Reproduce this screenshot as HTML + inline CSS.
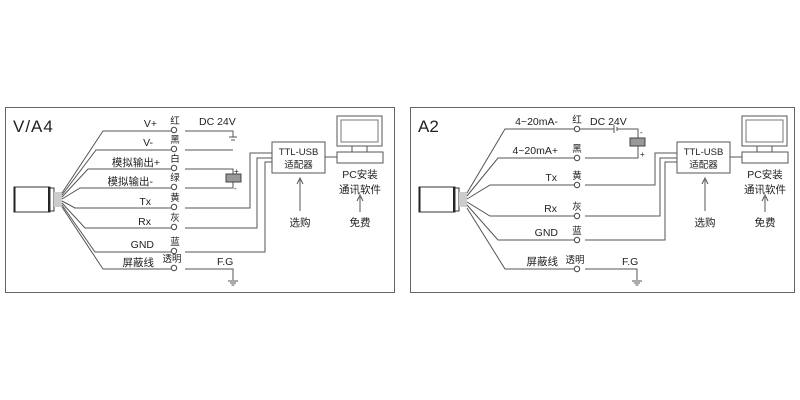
<!DOCTYPE html>
<html><head><meta charset="utf-8"><style>
body{margin:0;background:#fff}
svg{display:block}
text{font-family:"Liberation Sans","Noto Sans CJK SC",sans-serif;fill:#222;font-size:10.5px}
.c{font-size:9.5px}
.w{stroke:#555;stroke-width:1;fill:none}
</style></head><body>
<svg width="800" height="400" viewBox="0 0 800 400">
<defs>
<g id="gnd"><line x1="-5" y1="0" x2="5" y2="0" stroke="#555"/><line x1="-3" y1="2" x2="3" y2="2" stroke="#555"/><line x1="-1.5" y1="4" x2="1.5" y2="4" stroke="#555"/></g>
<g id="sensor">
<rect x="14" y="187" width="36" height="25" fill="#fff" stroke="#333" stroke-width="1"/>
<line x1="14.5" y1="187" x2="14.5" y2="212" stroke="#222" stroke-width="2"/>
<line x1="49" y1="187" x2="49" y2="212" stroke="#222" stroke-width="2"/>
<rect x="50" y="188" width="4" height="23" fill="#fff" stroke="#333"/>
<rect x="54" y="192" width="8" height="15" fill="#ccc"/>
</g>
<g id="ttl">
<rect x="272" y="142" width="53" height="31" fill="#fff" stroke="#555"/>
<text x="298.5" y="155" text-anchor="middle" style="font-size:9.5px">TTL-USB</text>
<text x="298.5" y="168" text-anchor="middle" style="font-size:9.5px">适配器</text>
<line x1="300" y1="211" x2="300" y2="180" stroke="#555"/><path d="M297,184 L300,178 L303,184" fill="none" stroke="#555"/>
<text x="300" y="226" text-anchor="middle">选购</text>
<rect x="337" y="116" width="45" height="30" fill="#fff" stroke="#555"/>
<rect x="341" y="120" width="37" height="22" fill="#fff" stroke="#777"/>
<line x1="352" y1="146" x2="352" y2="152" stroke="#555"/><line x1="367" y1="146" x2="367" y2="152" stroke="#555"/>
<rect x="337" y="152" width="46" height="11" fill="#fff" stroke="#555"/>
<line x1="325" y1="157" x2="337" y2="157" stroke="#555"/>
<line x1="360" y1="212" x2="360" y2="197" stroke="#555"/><path d="M357,201 L360,195 L363,201" fill="none" stroke="#555"/>
<text x="360" y="226" text-anchor="middle">免费</text>
</g>
</defs>

<!-- LEFT PANEL -->
<rect x="5.5" y="107.5" width="389" height="185" fill="none" stroke="#666"/>
<text x="13" y="132" style="font-size:17px;letter-spacing:1px">V/A4</text>
<use href="#sensor"/>
<g class="w">
<path d="M62,193 L103,131 L171,131"/>
<path d="M62,195 L96,150 L171,150"/>
<path d="M62,197 L88,169 L171,169"/>
<path d="M62,199 L80,188 L171,188"/>
<path d="M62,201 L75,208 L171,208"/>
<path d="M62,203 L85,228 L171,228"/>
<path d="M62,205 L95,252 L171,252"/>
<path d="M62,207 L103,269 L171,269"/>
</g>
<g fill="#fff" stroke="#444">
<circle cx="174" cy="130" r="2.7"/><circle cx="174" cy="149" r="2.7"/><circle cx="174" cy="168" r="2.7"/><circle cx="174" cy="187" r="2.7"/>
<circle cx="174" cy="207" r="2.7"/><circle cx="174" cy="227" r="2.7"/><circle cx="174" cy="251" r="2.7"/><circle cx="174" cy="268" r="2.7"/>
</g>
<g text-anchor="end">
<text x="157" y="127">V+</text><text x="153" y="146">V-</text><text x="160" y="166">模拟输出+</text><text x="153" y="185">模拟输出-</text>
<text x="151" y="205">Tx</text><text x="151" y="225">Rx</text><text x="154" y="248">GND</text><text x="154" y="266">屏蔽线</text>
</g>
<g text-anchor="middle">
<text class="c" x="175" y="124">红</text><text class="c" x="175" y="143">黑</text><text class="c" x="175" y="162">白</text><text class="c" x="175" y="181">绿</text>
<text class="c" x="175" y="201">黄</text><text class="c" x="175" y="221">灰</text><text class="c" x="175" y="245">蓝</text><text class="c" x="172" y="262">透明</text>
</g>
<text x="199" y="125">DC 24V</text>
<g class="w">
<path d="M185,131 L233,131 L233,137"/>
<line x1="229" y1="137" x2="237" y2="137"/><line x1="231" y1="140" x2="235" y2="140"/>
<path d="M185,150 L233,150"/>
<path d="M185,169 L233,169 L233,174"/>
<path d="M185,188 L233,188 L233,182"/>
<path d="M185,208 L250,208 L250,153 L272,153"/>
<path d="M185,228 L257,228 L257,158 L272,158"/>
<path d="M185,252 L265,252 L265,162 L272,162"/>
<path d="M185,269 L233,269 L233,280"/>
</g>
<rect x="226" y="174" width="15" height="8" fill="#999" stroke="#444"/>
<text x="234" y="174" style="font-size:8px">+</text><text x="234" y="191" style="font-size:8px">-</text>
<text x="217" y="265">F.G</text>
<use href="#gnd" x="233" y="281"/>
<use href="#ttl"/>
<text x="360" y="178" text-anchor="middle">PC安装</text>
<text x="360" y="193" text-anchor="middle">通讯软件</text>

<!-- RIGHT PANEL -->
<rect x="410.5" y="107.5" width="384" height="185" fill="none" stroke="#666"/>
<text x="418" y="132" style="font-size:17px">A2</text>
<use href="#sensor" x="405"/>
<g class="w">
<path d="M467,193 L505,129 L574,129"/>
<path d="M467,196 L498,158 L574,158"/>
<path d="M467,199 L490,185 L574,185"/>
<path d="M467,202 L490,216 L574,216"/>
<path d="M467,205 L498,240 L574,240"/>
<path d="M467,208 L505,269 L574,269"/>
</g>
<g fill="#fff" stroke="#444">
<circle cx="577" cy="129" r="2.7"/><circle cx="577" cy="158" r="2.7"/><circle cx="577" cy="185" r="2.7"/>
<circle cx="577" cy="216" r="2.7"/><circle cx="577" cy="240" r="2.7"/><circle cx="577" cy="269" r="2.7"/>
</g>
<g text-anchor="end">
<text x="558" y="125">4~20mA-</text><text x="558" y="154">4~20mA+</text><text x="557" y="181">Tx</text>
<text x="557" y="212">Rx</text><text x="558" y="236">GND</text><text x="558" y="265">屏蔽线</text>
</g>
<g text-anchor="middle">
<text class="c" x="577" y="123">红</text><text class="c" x="577" y="152">黑</text><text class="c" x="577" y="179">黄</text>
<text class="c" x="577" y="210">灰</text><text class="c" x="577" y="234">蓝</text><text class="c" x="575" y="263">透明</text>
</g>
<text x="590" y="125">DC 24V</text>
<g class="w">
<path d="M580,129 L614,129"/><line x1="614" y1="125" x2="614" y2="133"/><line x1="617" y1="127" x2="617" y2="131"/>
<path d="M617,129 L638,129 L638,138"/>
<path d="M585,158 L638,158 L638,146"/>
<path d="M585,185 L655,185 L655,153 L677,153"/>
<path d="M585,216 L660,216 L660,158 L677,158"/>
<path d="M585,240 L665,240 L665,162 L677,162"/>
<path d="M585,269 L637,269 L637,280"/>
</g>
<rect x="630" y="138" width="15" height="8" fill="#999" stroke="#444"/>
<text x="640" y="135" style="font-size:8px">-</text><text x="640" y="157" style="font-size:8px">+</text>
<text x="622" y="265">F.G</text>
<use href="#gnd" x="637" y="281"/>
<use href="#ttl" x="405"/>
<text x="765" y="178" text-anchor="middle">PC安装</text>
<text x="765" y="193" text-anchor="middle">通讯软件</text>
</svg>
</body></html>
